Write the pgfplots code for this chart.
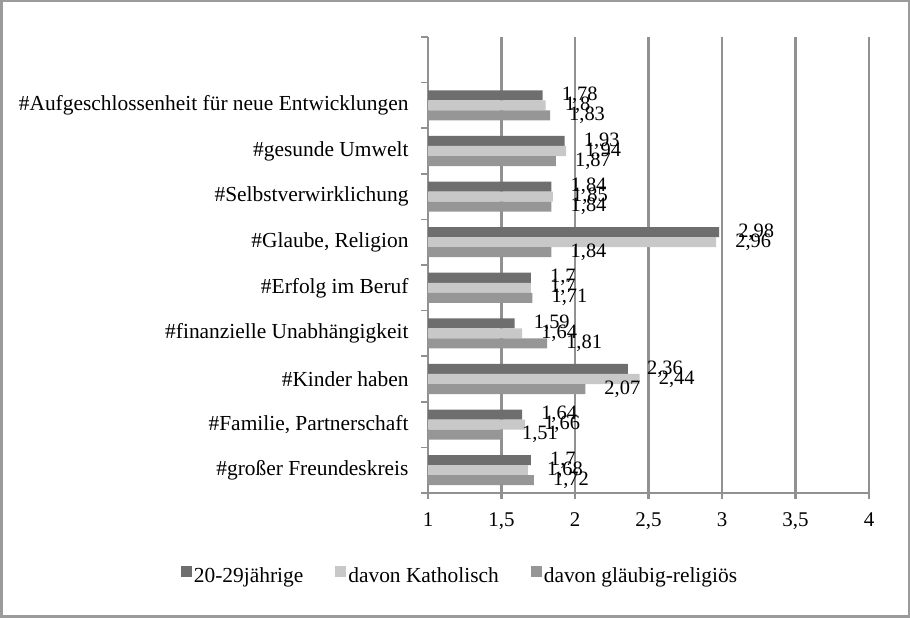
\documentclass[border=0pt]{standalone}
\usepackage{pgfplots}
\pgfplotsset{compat=1.18}
\usepackage{fontspec}
\setmainfont{Liberation Serif}

\definecolor{bardark}{RGB}{110,110,110}
\definecolor{barlight}{RGB}{200,200,200}
\definecolor{barmid}{RGB}{150,150,150}
\definecolor{gridgray}{RGB}{145,145,145}
\definecolor{framegray}{RGB}{155,155,155}

\begin{document}
\begin{tikzpicture}[x=1bp,y=1bp]
\path[use as bounding box] (0,0) rectangle (910,618);
\draw[framegray, line width=2.5bp] (1.25,1.25) rectangle (908.75,616.75);

\begin{axis}[
at={(428bp,125bp)}, anchor=south west,
scale only axis, width=441bp, height=456bp,
xbar, bar width=0.22,
xmin=1, xmax=4,
ymin=-0.5, ymax=9.5,
xtick={1,1.5,...,4},
ytick={0,...,8},
yticklabels={{\#großer Freundeskreis},{\#Familie, Partnerschaft},{\#Kinder haben},{\#finanzielle Unabhängigkeit},{\#Erfolg im Beruf},{\#Glaube, Religion},{\#Selbstverwirklichung},{\#gesunde Umwelt},{\#Aufgeschlossenheit für neue Entwicklungen}},
minor ytick={-0.5,0.5,...,9.5},
axis x line=bottom, axis y line=left,
axis line style={-, gridgray, line width=2.5bp},
xmajorgrids, major grid style={gridgray, line width=2.6bp},
tick align=outside,
major tick length=6bp, minor tick length=7bp,
major y tick style={draw=none},
minor y tick style={gridgray, line width=1.5bp},
xtick style={gridgray, line width=2.5bp},
/pgf/number format/use comma,
/pgf/number format/assume math mode=true,
ticklabel style={font=\fontsize{21}{25}\selectfont, text=black},
yticklabel style={font=\fontsize{21.5}{25}\selectfont, xshift=-10bp},
xticklabel style={yshift=-10bp},
nodes near coords,
nodes near coords style={font=\fontsize{20.5}{23}\selectfont, anchor=west, xshift=19bp, text=black, inner sep=0pt, /pgf/number format/use comma, /pgf/number format/assume math mode=true},
legend style={at={(0.0726,-0.181)}, anchor=center, draw=none, fill=none,
  font=\fontsize{21.5}{25}\selectfont, legend columns=3,
  /tikz/every odd column/.append style={column sep=0bp},
  /tikz/every even column/.append style={column sep=30bp}},
legend image code/.code={\fill[#1] (0bp,-1bp) rectangle (11bp,10bp);},
]
\addplot[fill=bardark, draw=none, bar shift=0.22] coordinates {
(1.7,0) (1.64,1) (2.36,2) (1.59,3) (1.7,4) (2.98,5) (1.84,6) (1.93,7) (1.78,8)};
\addlegendentry{20-29jährige}
\addplot[fill=barlight, draw=none, bar shift=0] coordinates {
(1.68,0) (1.66,1) (2.44,2) (1.64,3) (1.7,4) (2.96,5) (1.85,6) (1.94,7) (1.8,8)};
\addlegendentry{davon Katholisch}
\addplot[fill=barmid, draw=none, bar shift=-0.22] coordinates {
(1.72,0) (1.51,1) (2.07,2) (1.81,3) (1.71,4) (1.84,5) (1.84,6) (1.87,7) (1.83,8)};
\addlegendentry{davon gläubig-religiös}
\end{axis}
\end{tikzpicture}
\end{document}
